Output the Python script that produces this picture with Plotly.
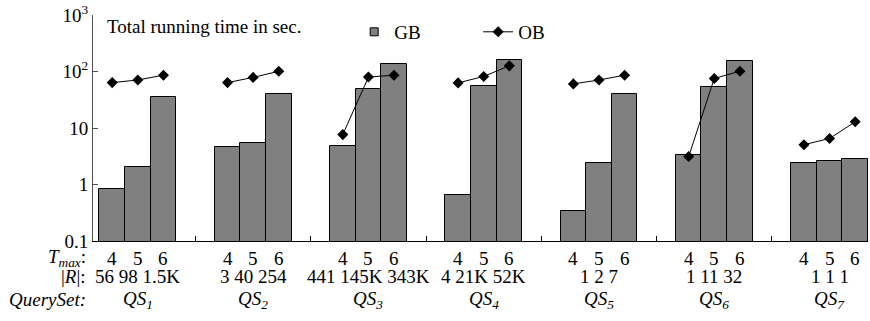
import plotly.graph_objects as go

# ---- data ----
query_sets = ["QS<sub>1</sub>", "QS<sub>2</sub>", "QS<sub>3</sub>", "QS<sub>4</sub>",
              "QS<sub>5</sub>", "QS<sub>6</sub>", "QS<sub>7</sub>"]
tmax_labels = ["4", "5", "6"]
r_labels = [["56", "98", "1.5K"], ["3", "40", "254"], ["441", "145K", "343K"],
            ["4", "21K", "52K"], ["1", "2", "7"], ["1", "11", "32"], ["1", "1", "1"]]
gb_values = [[0.835, 2.02, 35.2],
             [4.68, 5.48, 40.2],
             [4.75, 49.6, 137],
             [0.659, 56.5, 162],
             [0.340, 2.39, 40.2],
             [3.28, 53.7, 156],
             [2.39, 2.56, 2.88]]
ob_values = [[63.6, 70.8, 86.2],
             [63.6, 78.7, 101],
             [7.64, 79.7, 86.2],
             [62.9, 81.9, 126],
             [60.4, 70.8, 86.2],
             [3.12, 75.5, 101],
             [5.07, 6.52, 12.9]]
y_tickvals = [0.1, 1, 10, 100, 1000]
y_ticktext = ["0.1", "1", "10", "10<sup>2</sup>", "10<sup>3</sup>"]

# ---- layout constants ----
GROUP_STEP = 4.5
FONT = "Liberation Serif, Times New Roman, serif"
FS = 19
SEP = " "

bx, by, ox, oy = [], [], [], []
for g, (gbs, obs) in enumerate(zip(gb_values, ob_values)):
    for i in range(3):
        x = g * GROUP_STEP + i
        bx.append(x); by.append(gbs[i])
        ox.append(x); oy.append(obs[i])
    ox.append(None); oy.append(None)

fig = go.Figure()
fig.add_trace(go.Bar(x=bx, y=by, width=1, name="GB", showlegend=False,
                     marker=dict(color="#808080", line=dict(color="black", width=1))))
# legend swatch for GB (small square, as in the reference)
fig.add_trace(go.Scatter(x=[None], y=[None], name="GB", mode="markers",
                         marker=dict(symbol="square", size=8, color="#808080",
                                     line=dict(color="black", width=1))))
fig.add_trace(go.Scatter(x=ox, y=oy, name="OB", mode="lines+markers", connectgaps=False,
                         line=dict(color="black", width=1),
                         marker=dict(symbol="diamond", size=8.5, color="black")))

ann = []
ann.append(dict(text="Total running time in sec.", x=0.0155, y=0.948, xref="paper", yref="paper",
                xanchor="left", yanchor="middle", showarrow=False, font=dict(size=FS)))
Y_T, Y_R, Y_Q = -0.077, -0.158, -0.26
for g in range(len(query_sets)):
    for i in range(3):
        ann.append(dict(text=tmax_labels[i], x=g * GROUP_STEP + i, y=Y_T, xref="x", yref="paper",
                        showarrow=False, yanchor="middle"))
    ann.append(dict(text=SEP.join(r_labels[g]), x=g * GROUP_STEP + 1, y=Y_R, xref="x",
                    yref="paper", showarrow=False, yanchor="middle"))
    ann.append(dict(text="<i>" + query_sets[g] + "</i>", x=g * GROUP_STEP + 1, y=Y_Q, xref="x",
                    yref="paper", showarrow=False, yanchor="middle"))
for txt, yy in [("<i>T<sub>max</sub></i>:", Y_T), ("|<i>R</i>|:", Y_R), ("<i>QuerySet:</i>", Y_Q)]:
    ann.append(dict(text=txt, x=-0.0065, y=yy, xref="paper", yref="paper", xanchor="right",
                    yanchor="middle", showarrow=False))

fig.update_layout(
    width=870, height=321,
    margin=dict(l=93, r=2, t=8, b=80),
    paper_bgcolor="white", plot_bgcolor="white",
    font=dict(family=FONT, size=FS, color="black"),
    bargap=0,
    showlegend=True,
    legend=dict(orientation="h", x=0.337, y=0.925, xanchor="left", yanchor="middle",
                bgcolor="rgba(0,0,0,0)", entrywidth=79, font=dict(size=FS)),
    annotations=ann,
    xaxis=dict(range=[-0.75, 29.5], showline=True, linecolor="black", linewidth=1,
               tickvals=[g * GROUP_STEP + 3.25 for g in range(len(query_sets) - 1)],
               ticktext=[""] * (len(query_sets) - 1),
               ticks="inside", ticklen=5, tickcolor="black", showgrid=False, zeroline=False),
    yaxis=dict(type="log", range=[-1, 3.0005], showline=True, linecolor="#505050", linewidth=1,
               tickvals=y_tickvals, ticktext=y_ticktext, ticks="inside", ticklen=5,
               tickcolor="#505050", showgrid=False, zeroline=False,
               ticklabeloverflow="allow"),
)

fig.write_html("out.html", config={"displayModeBar": False},
               post_script="document.body.style.margin='0';")
